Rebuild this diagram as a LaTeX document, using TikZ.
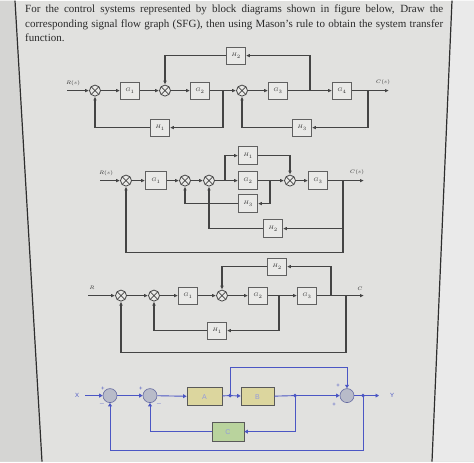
\documentclass[tikz,border=0pt]{standalone}
\usepackage{fontspec}
\setmainfont{Liberation Serif}
\setsansfont{Liberation Sans}
\usetikzlibrary{arrows.meta}
\definecolor{bgc}{HTML}{E1E1DF}
\definecolor{outl}{HTML}{D5D5D3}
\definecolor{outr}{HTML}{EAEAEA}
\definecolor{framec}{HTML}{2E2E2E}
\definecolor{linec}{HTML}{444444}
\definecolor{boxc}{HTML}{606060}
\definecolor{boxf}{HTML}{E9E9E7}
\definecolor{txtc}{HTML}{2A2A2A}
\definecolor{bl}{HTML}{4B56C4}
\definecolor{sumf}{HTML}{B8BBC9}
\definecolor{afill}{HTML}{DCD69E}
\definecolor{cfill}{HTML}{B9D39D}
\tikzset{
 blk/.style={draw=boxc, fill=boxf, line width=0.8pt, minimum width=19pt, minimum height=17pt, inner sep=0pt, text=txtc, font=\fontsize{5}{6}\selectfont},
 sumj/.style={circle, draw=linec, fill=boxf, line width=0.8pt, minimum size=11pt, inner sep=0pt,
   path picture={\draw[linec,line width=0.6pt] (path picture bounding box.north west) -- (path picture bounding box.south east) (path picture bounding box.north east) -- (path picture bounding box.south west);}},
 ln/.style={draw=linec, line width=1.2pt},
 arr/.style={ln, -{Latex[length=4pt,width=3.6pt]}},
 lbl/.style={inner sep=0pt, text=txtc, font=\fontsize{5}{6}\selectfont},
 bln/.style={draw=bl, line width=0.9pt},
 barr/.style={bln, -{Triangle[length=3.5pt,width=3.8pt]}},
 bsum/.style={circle, draw=bl!50!gray, fill=sumf, line width=0.6pt, minimum size=14pt, inner sep=0pt},
 bblk/.style={draw=gray!70!black, line width=0.7pt, minimum width=34pt, minimum height=18pt, inner sep=0pt, text=bl!60!white, font=\sffamily\fontsize{7}{8}\selectfont},
 blbl/.style={inner sep=0pt, text=bl, font=\sffamily\fontsize{6}{7}\selectfont},
 txt/.style={anchor=base west, inner sep=0pt, text=txtc, font=\fontsize{11}{13}\selectfont},
}
\begin{document}
\begin{tikzpicture}[x=1pt,y=-1pt]
\fill[bgc] (0,0) rectangle (474,461);
\fill[outl] (0,0) -- (15,0) -- (42,461) -- (0,461) -- cycle;
\fill[outr] (452,0) -- (474,0) -- (474,461) -- (432,461) -- cycle;
\draw[framec, line width=1.2pt] (15,0) -- (42,461);
\draw[framec, line width=1.2pt] (452,0) -- (432,461);
\useasboundingbox (0,0) rectangle (474,461);

% heading text
\node[txt] (t1) at (25,11.5) {\makebox[418pt][s]{For the control systems represented by block diagrams shown in figure below, Draw the}};
\node[txt] (t2) at (25,26.5) {\makebox[418pt][s]{corresponding signal flow graph (SFG), then using Mason's rule to obtain the system transfer}};
\node[txt] (t3) at (25,41) {function.};

% ---------- Diagram 1 ----------
\coordinate (i1) at (67,90);
\node[sumj] (s11) at (95,90) {};
\node[blk] (g11) at (130,90) {$G_1$};
\node[sumj] (s12) at (165,90) {};
\node[blk] (g12) at (200,90) {$G_2$};
\coordinate (b11) at (223,90);
\node[sumj] (s13) at (242,90) {};
\node[blk] (g13) at (278,90) {$G_3$};
\coordinate (b12) at (310,90);
\node[blk] (g14) at (342,90) {$G_4$};
\coordinate (b13) at (368,90);
\coordinate (o1) at (389,90);
\node[blk] (h12) at (236,55) {$H_2$};
\node[blk] (h11) at (160,127) {$H_1$};
\node[blk] (h13) at (302,127) {$H_3$};
\node[lbl] (r1) at (73,83) {$R(s)$};
\node[lbl] (c1) at (383,82) {$C(s)$};
\draw[arr] (i1) -- (s11);
\draw[arr] (s11) -- (g11);
\draw[arr] (g11) -- (s12);
\draw[arr] (s12) -- (g12);
\draw[ln] (g12) -- (b11);
\draw[arr] (b11) -- (s13);
\draw[arr] (s13) -- (g13);
\draw[ln] (g13) -- (b12);
\draw[arr] (b12) -- (g14);
\draw[ln] (g14) -- (b13);
\draw[arr] (b13) -- (o1);
\draw[arr] (b12) |- (h12);
\draw[arr] (h12) -| (s12);
\draw[arr] (b11) |- (h11);
\draw[arr] (h11) -| (s11);
\draw[arr] (b13) |- (h13);
\draw[arr] (h13) -| (s13);

% ---------- Diagram 2 ----------
\coordinate (i2) at (100,180);
\node[sumj] (s21) at (126,180) {};
\node[blk, minimum width=21pt, minimum height=18pt] (g21) at (156,180) {$G_1$};
\node[sumj] (s22) at (185,180) {};
\node[sumj] (s23) at (209,180) {};
\coordinate (b21) at (225,180);
\node[blk, minimum height=18pt] (h21) at (248,155) {$H_1$};
\node[blk, minimum height=18pt] (g22) at (248,180) {$G_2$};
\coordinate (b22) at (270,180);
\node[sumj] (s24) at (290,180) {};
\node[blk, minimum height=18pt] (g23) at (318,180) {$G_3$};
\coordinate (b23) at (343,180);
\coordinate (o2) at (364,180);
\node[blk, minimum height=18pt] (h23) at (248,203) {$H_3$};
\node[blk, minimum height=18pt] (h22) at (273,228) {$H_2$};
\coordinate (c2) at (343,252);
\node[lbl] (r2) at (106,173) {$R(s)$};
\node[lbl] (cc2) at (357,172) {$C(s)$};
\draw[arr] (i2) -- (s21);
\draw[arr] (s21) -- (g21);
\draw[arr] (g21) -- (s22);
\draw[arr] (s22) -- (s23);
\draw[ln] (s23) -- (b21);
\draw[arr] (b21) -- (g22);
\draw[arr] (b21) |- (h21);
\draw[arr] (h21) -| (s24);
\draw[ln] (g22) -- (b22);
\draw[arr] (b22) -- (s24);
\draw[arr] (s24) -- (g23);
\draw[ln] (g23) -- (b23);
\draw[arr] (b23) -- (o2);
\draw[arr] (b22) |- (h23);
\draw[arr] (h23) -| (s22);
\draw[arr] (b23) |- (h22);
\draw[arr] (h22) -| (s23);
\draw[arr] (b23) -- (c2) -| (s21);

% ---------- Diagram 3 ----------
\coordinate (i3) at (88,295);
\node[sumj] (s31) at (121,295) {};
\node[sumj] (s32) at (154,295) {};
\node[blk] (g31) at (188,295) {$G_1$};
\node[sumj] (s33) at (222,295) {};
\node[blk] (g32) at (258,295) {$G_2$};
\coordinate (b31) at (279,295);
\node[blk] (g33) at (307,295) {$G_3$};
\coordinate (b32) at (331,295);
\coordinate (b33) at (346,295);
\coordinate (o3) at (364,295);
\node[blk] (h32) at (277,266) {$H_2$};
\node[blk] (h31) at (217,330) {$H_1$};
\coordinate (c3) at (346,352);
\node[lbl] (r3) at (92,287) {$R$};
\node[lbl] (cc3) at (360,288) {$C$};
\draw[arr] (i3) -- (s31);
\draw[arr] (s31) -- (s32);
\draw[arr] (s32) -- (g31);
\draw[arr] (g31) -- (s33);
\draw[arr] (s33) -- (g32);
\draw[ln] (g32) -- (b31);
\draw[arr] (b31) -- (g33);
\draw[ln] (g33) -- (b33);
\draw[arr] (b33) -- (o3);
\draw[arr] (b32) |- (h32);
\draw[arr] (h32) -| (s33);
\draw[arr] (b31) |- (h31);
\draw[arr] (h31) -| (s32);
\draw[arr] (b33) -- (c3) -| (s31);

% ---------- Diagram 4 ----------
\coordinate (i4) at (85,395);
\node[blbl] (x4) at (77,395) {X};
\node[bsum] (s41) at (110,395) {};
\node[bsum] (s42) at (150,395) {};
\node[bblk, fill=afill, minimum width=35pt] (a4) at (204.5,396) {A};
\coordinate (d41) at (230,395);
\node[bblk, fill=afill, minimum width=33pt] (bb4) at (257.5,396) {B};
\coordinate (d42) at (295,395);
\node[bsum] (s43) at (347,395) {};
\coordinate (d43) at (363,395);
\coordinate (o4) at (379,395);
\node[blbl] (y4) at (392,395) {Y};
\node[bblk, fill=cfill, minimum width=32pt, minimum height=19pt] (c4) at (228,431) {C};
\coordinate (e4) at (363,450);
\coordinate (f4) at (230,367);
\node[blbl] at (103,388) {+};
\node[blbl] at (102,403) {$-$};
\node[blbl] at (141,388) {+};
\node[blbl] at (159,403) {$-$};
\node[blbl] at (338,385) {+};
\node[blbl] at (334,404) {+};
\draw[barr] (i4) -- (s41);
\draw[barr] (s41) -- (s42);
\draw[barr] (s42) -- (a4);
\draw[bln] (a4) -- (d41);
\draw[barr] (d41) -- (bb4);
\draw[bln] (bb4) -- (d42);
\draw[barr] (d42) -- (s43);
\draw[bln] (s43) -- (d43);
\draw[barr] (d43) -- (o4);
\draw[barr] (d41) -- (f4) -| (s43);
\draw[barr] (d42) |- (c4);
\draw[barr] (c4) -| (s42);
\draw[barr] (d43) -- (e4) -| (s41);
\fill[bl] (d41) circle (1.9pt);
\fill[bl] (d42) circle (1.9pt);
\fill[bl] (d43) circle (1.9pt);
\end{tikzpicture}
\end{document}
